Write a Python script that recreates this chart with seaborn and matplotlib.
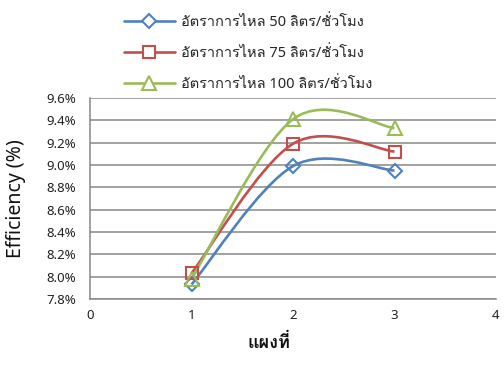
import matplotlib
matplotlib.use("Agg")
import matplotlib.pyplot as plt
from matplotlib.path import Path
from matplotlib.patches import PathPatch
from matplotlib.lines import Line2D
from matplotlib.ticker import FuncFormatter, MultipleLocator
import numpy as np
import pandas as pd
import seaborn as sns

# Panel number and measured efficiency (%) for each flow rate
panels = [1, 2, 3]
eff_50 = [7.93, 8.99, 8.95]
eff_75 = [8.03, 9.19, 9.12]
eff_100 = [7.98, 9.41, 9.33]
series_names = [
    "อัตราการไหล 50 ลิตร/ชั่วโมง",
    "อัตราการไหล 75 ลิตร/ชั่วโมง",
    "อัตราการไหล 100 ลิตร/ชั่วโมง",
]

colors = ["#4F81BD", "#C0504D", "#9BBB59"]
markers = ["D", "s", "^"]
msizes = [6.8, 9.0, 10.5]

df = pd.DataFrame({
    "panel": panels * 3,
    "eff": eff_50 + eff_75 + eff_100,
    "series": np.repeat(series_names, len(panels)),
})

sns.set_theme(style="white")
FONT = ["Noto Sans", "Loma", "Noto Sans Thai Looped", "DejaVu Sans"]
THAI = ["Loma", "Noto Sans Thai Looped", "DejaVu Sans"]
plt.rcParams["font.family"] = FONT

fig = plt.figure(figsize=(5.04, 3.65), dpi=100)
ax = fig.add_axes([90 / 504, 1 - 299 / 365, 406 / 504, 201 / 365])


def smooth_path(xs, ys):
    """Cubic Bezier through the points (Catmull-Rom style control points)."""
    pts = np.column_stack([xs, ys]).astype(float)
    ext = np.vstack([pts[0], pts, pts[-1]])
    verts = [tuple(pts[0])]
    codes = [Path.MOVETO]
    for i in range(len(pts) - 1):
        p0, p1, p2, p3 = ext[i], ext[i + 1], ext[i + 2], ext[i + 3]
        c1 = p1 + (p2 - p0) / 6.0
        c2 = p2 - (p3 - p1) / 6.0
        verts += [tuple(c1), tuple(c2), tuple(p2)]
        codes += [Path.CURVE4] * 3
    return Path(verts, codes)


for name, col in zip(series_names, colors):
    sub = df[df["series"] == name]
    ax.add_patch(PathPatch(smooth_path(sub["panel"], sub["eff"]), fill=False,
                           edgecolor=col, lw=1.9, zorder=3))

for name, col, mk, ms in zip(series_names, colors, markers, msizes):
    sub = df[df["series"] == name]
    sns.lineplot(data=sub, x="panel", y="eff", ax=ax, linestyle="", marker=mk,
                 markersize=ms, markerfacecolor="none", markeredgecolor=col,
                 markeredgewidth=1.5, color=col, zorder=4)

ax.set_xlim(0, 4)
ax.set_ylim(7.8, 9.6)
ax.xaxis.set_major_locator(MultipleLocator(1))
ax.yaxis.set_major_locator(MultipleLocator(0.2))
ax.yaxis.set_major_formatter(FuncFormatter(lambda v, p: f"{v:.1f}%"))
ax.grid(axis="y", color="#878787", lw=1.1)
ax.grid(axis="x", visible=False)
for side in ["top", "right"]:
    ax.spines[side].set_visible(False)
for side in ["left", "bottom"]:
    ax.spines[side].set_color("#878787")
    ax.spines[side].set_linewidth(1.1)
ax.tick_params(axis="both", length=0, labelsize=9.5, colors="#222222")
ax.tick_params(axis="y", pad=10)
ax.tick_params(axis="x", pad=7)

ax.set_ylabel("Efficiency (%)", fontsize=14, color="#111111")
ax.yaxis.set_label_coords(-0.158, 0.5)
ax.set_xlabel("แผงที่", fontsize=13, fontweight="bold", color="#111111", family=THAI)
ax.xaxis.set_label_coords(0.441, -0.175)

handles = [Line2D([], [], color=c, lw=1.9, marker=m, markersize=s,
                  markerfacecolor="white", markeredgecolor=c, markeredgewidth=1.5)
           for c, m, s in zip(colors, markers, msizes)]
fig.legend(handles, series_names, loc="upper left", bbox_to_anchor=(118 / 504, 1 - 9 / 365),
           frameon=False, fontsize=10.5, handlelength=3.5, handletextpad=0.4,
           labelspacing=1.12, borderaxespad=0, labelcolor="#262626")

fig.savefig("out.png", dpi=100)
